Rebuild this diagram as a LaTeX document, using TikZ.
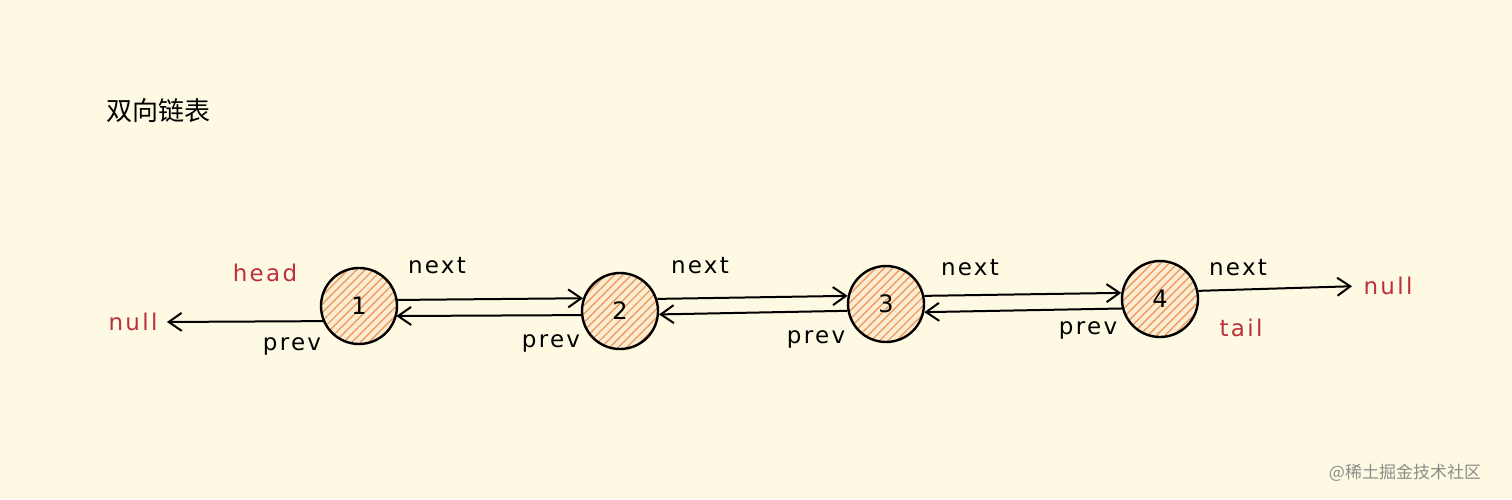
\documentclass[tikz,border=0pt]{standalone}
\usepackage{fontspec}
\setmainfont{DejaVu Sans}
\newfontfamily\hand[LetterSpace=10]{DejaVu Sans}
\newfontfamily\cjk{Noto Sans CJK SC}
\usetikzlibrary{arrows.meta,patterns.meta}
\definecolor{paper}{RGB}{254,249,226}
\definecolor{peach}{RGB}{251,236,210}
\definecolor{hatch}{RGB}{238,156,96}
\definecolor{redtxt}{RGB}{188,48,58}
\tikzset{
  item/.style={circle,draw,line width=2.4pt,minimum size=76pt,inner sep=0pt,
    preaction={fill=peach},pattern={Lines[angle=45,distance=6pt,line width=1.4pt]},
    pattern color=hatch,font=\hand\fontsize{24}{26}\selectfont},
  link/.style={line width=2pt,-{Straight Barb[length=13pt,width=18pt,line width=2pt]}},
  lbl/.style={font=\hand\fontsize{23}{25}\selectfont},
  key/.style={lbl,text=redtxt},
}
\begin{document}
\begin{tikzpicture}[x=1pt,y=-1pt]
\fill[paper] (0,0) rectangle (1512,499);
\useasboundingbox (0,0) rectangle (1512,499);
\node[font=\cjk\fontsize{26}{28}\selectfont] (title) at (158,111) {双向链表};
% nodes of the list
\node[item] (n1) at (359,306) {1};
\node[item] (n2) at (620,311) {2};
\node[item] (n3) at (886,304) {3};
\node[item] (n4) at (1160,299) {4};
\node[key] (nullL) at (133,322) {null};
\node[key] (nullR) at (1388,286) {null};
\node[key] (head) at (265,273) {head};
\node[key] (tail) at (1241,328) {tail};
% next / prev links
\draw[link,shorten >=6pt] (n1.203) -- (nullL.east);
\draw[link] (n1.9) -- (n2.161);
\draw[link] (n2.186) -- (n1.345);
\draw[link] (n2.18) -- (n3.168);
\draw[link] (n3.190) -- (n2.355);
\draw[link] (n3.12) -- (n4.171);
\draw[link] (n4.194) -- (n3.348);
\draw[link,shorten >=8pt] (n4.12) -- (nullR.west);
% labels
\node[lbl] (next1) at (437,266) {next};
\node[lbl] (prev1) at (292,346) {prev};
\node[lbl] (next2) at (700,266) {next};
\node[lbl] (prev2) at (551,343) {prev};
\node[lbl] (next3) at (970,268) {next};
\node[lbl] (prev3) at (816,339) {prev};
\node[lbl] (next4) at (1238,268) {next};
\node[lbl] (prev4) at (1088,330) {prev};
\node[font=\cjk\fontsize{17}{19}\selectfont,text=black!45] (mark) at (1405,473) {@稀土掘金技术社区};
\end{tikzpicture}
\end{document}
